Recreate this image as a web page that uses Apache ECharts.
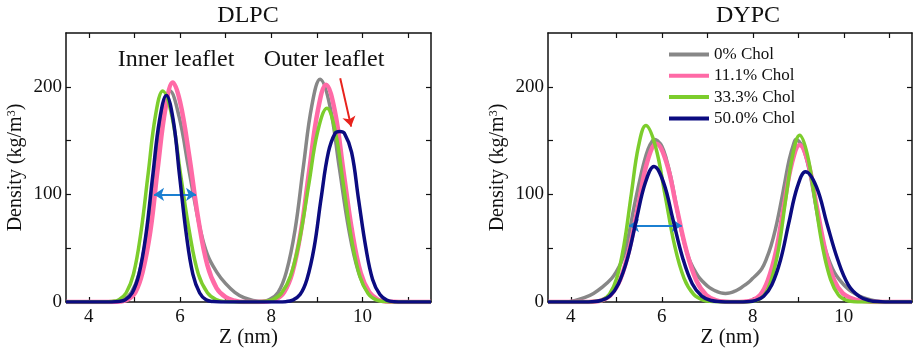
<!DOCTYPE html>
<html>
<head>
<meta charset="utf-8">
<script src="https://cdn.jsdelivr.net/npm/echarts@6/dist/echarts.min.js"></script>
<style>
  html, body { margin: 0; padding: 0; background: #fff; }
  #chart { width: 915px; height: 348px; }
</style>
</head>
<body>
<div id="chart"></div>
<script>
// legend names
const names = ['0% Chol', '11.1% Chol', '33.3% Chol', '50.0% Chol']
const panelTitles = ['DLPC', 'DYPC']

// axis ticks
const xTicks = [4, 5, 6, 7, 8, 9, 10, 11]
const xLabels = [4, 6, 8, 10]
const yTicks = [0, 50, 100, 150, 200]
const yLabels = [0, 100, 200]

// DLPC density profiles [Z (nm), density]
const dlpc0 = [[3.5,0],[4.4,0],[4.59,0.4],[4.76,2.2],[4.93,8.6],[5.10,26],[5.27,64],[5.44,119],[5.61,173],[5.78,196],[5.98,172],[6.18,126],[6.30,98],[6.44,68],[6.60,44],[6.80,28],[7.00,17],[7.20,9],[7.40,4],[7.60,1.5],[7.80,0.5],[7.96,2.3],[8.15,9],[8.33,28],[8.52,67],[8.70,125],[8.89,183],[9.07,207],[9.28,183],[9.49,125],[9.70,67],[9.91,28],[10.12,9],[10.33,2.3],[10.54,0.5],[10.8,0],[11.5,0]]
const dlpc11 = [[3.5,0],[4.5,0],[4.68,0.4],[4.85,2.3],[5.02,9],[5.18,28],[5.35,66],[5.51,124],[5.68,180],[5.84,204],[6.00,186],[6.20,136],[6.40,77],[6.60,34],[6.80,13],[7.00,4.5],[7.20,1.2],[7.40,0],[7.70,0],[7.90,0.4],[8.09,2.2],[8.28,9],[8.46,27],[8.65,66],[8.83,122],[9.02,178],[9.20,202],[9.39,178],[9.58,122],[9.77,66],[9.96,27],[10.15,9],[10.34,2.2],[10.53,0.4],[10.8,0],[11.5,0]]
const dlpc33 = [[3.5,0],[4.35,0],[4.50,0.4],[4.66,2.2],[4.82,8.6],[4.98,26],[5.14,64],[5.30,119],[5.46,173],[5.62,196],[5.82,173],[6.01,119],[6.21,64],[6.40,26],[6.60,8.6],[6.79,2.2],[6.99,0.4],[7.2,0],[7.65,0],[7.82,0.4],[8.02,2],[8.22,8],[8.42,24],[8.62,58],[8.82,109],[9.02,159],[9.22,180],[9.40,159],[9.58,109],[9.76,58],[9.94,24],[10.12,8],[10.30,2],[10.48,0.4],[10.7,0],[11.5,0]]
const dlpc50 = [[3.5,0],[4.5,0],[4.65,0.4],[4.80,2.1],[4.95,8.4],[5.10,26],[5.25,62],[5.40,117],[5.55,169],[5.70,192],[5.85,169],[5.99,117],[6.14,62],[6.28,26],[6.43,8.4],[6.57,2.1],[6.72,0.4],[6.9,0],[8.15,0],[8.32,0.3],[8.47,1.8],[8.63,6.9],[8.78,21],[8.94,51],[9.09,96],[9.25,139],[9.40,157],[9.50,158.5],[9.60,157],[9.76,139],[9.91,96],[10.07,51],[10.22,21],[10.38,6.9],[10.53,1.8],[10.69,0.3],[10.9,0],[11.5,0]]

// DYPC density profiles
const dypc0 = [[3.5,0],[3.9,0],[4.1,1.5],[4.3,4],[4.5,8],[4.7,14],[4.9,22],[5.0,28],[5.1,36],[5.2,48],[5.3,68],[5.4,90],[5.5,110],[5.6,128],[5.7,142],[5.8,150],[5.85,151],[5.9,150],[6.0,145],[6.1,133],[6.2,116],[6.3,94],[6.4,72],[6.5,54],[6.6,40],[6.7,31],[6.8,24],[6.9,19],[7.0,15],[7.1,12],[7.2,10],[7.3,8.5],[7.4,8],[7.5,8.5],[7.6,10],[7.7,12],[7.8,15],[7.9,18],[8.0,22],[8.1,26],[8.2,31],[8.3,40],[8.4,52],[8.5,68],[8.6,88],[8.7,110],[8.8,132],[8.9,147],[8.95,151],[9.0,150],[9.1,144],[9.2,130],[9.3,110],[9.4,86],[9.5,64],[9.6,48],[9.7,36],[9.8,27],[9.9,21],[10.0,16],[10.1,12],[10.2,9],[10.3,6.5],[10.4,4.5],[10.6,2],[10.8,0.5],[11.0,0],[11.5,0]]
const dypc11 = [[3.5,0],[4.3,0],[4.48,0.3],[4.68,1.6],[4.88,6.5],[5.08,20],[5.28,48],[5.48,89],[5.68,130],[5.88,147],[6.10,130],[6.32,89],[6.54,48],[6.76,20],[6.98,6.5],[7.20,1.6],[7.42,0.3],[7.6,0],[7.81,0.3],[7.98,1.6],[8.16,6.4],[8.33,20],[8.51,47],[8.68,88],[8.86,129],[9.03,146],[9.22,129],[9.41,88],[9.60,47],[9.79,20],[9.98,8],[10.17,3.5],[10.36,1.3],[10.6,0.3],[10.8,0],[11.5,0]]
const dypc33 = [[3.5,0],[4.35,0],[4.53,0.4],[4.69,1.8],[4.85,7.2],[5.01,22],[5.17,53],[5.33,100],[5.49,145],[5.65,164],[5.86,145],[6.07,100],[6.28,53],[6.49,22],[6.70,7.2],[6.91,1.8],[7.12,0.4],[7.35,0],[7.75,0],[7.94,0.3],[8.10,1.7],[8.26,6.8],[8.41,21],[8.57,50],[8.72,94],[8.88,137],[9.03,155],[9.20,137],[9.37,94],[9.54,50],[9.71,21],[9.88,6.8],[10.05,1.7],[10.22,0.3],[10.4,0],[11.5,0]]
const dypc50 = [[3.5,0],[4.3,0],[4.47,0.3],[4.66,1.4],[4.86,5.5],[5.05,17],[5.25,41],[5.44,76],[5.64,111],[5.83,126],[6.04,111],[6.25,76],[6.46,41],[6.67,17],[6.88,5.5],[7.09,1.4],[7.30,0.3],[7.5,0],[7.7,0],[7.87,0.3],[8.05,1.3],[8.24,5.3],[8.42,16],[8.61,39],[8.79,73],[8.98,107],[9.16,121],[9.40,107],[9.63,73],[9.87,39],[10.10,16],[10.34,5.3],[10.57,1.3],[10.81,0.3],[11.0,0],[11.5,0]]

// annotation arrows (data coords)
const dlpcWidthArrow = [[5.43, 100], [6.35, 100]]
const dypcWidthArrow = [[5.28, 71], [6.44, 71]]
const dlpcShiftArrow = [[9.51, 208], [9.75, 163]]

const colors = ['#878787', '#ff6aa6', '#7ccd2c', '#0b0b80']
const widths = [3.5, 4.5, 3.5, 3.5]
const font = 'Liberation Serif'

const grids = [
  {left: 66, top: 33, width: 365, height: 269, outerBoundsMode: 'none', containLabel: false},
  {left: 548, top: 33, width: 364, height: 269, outerBoundsMode: 'none', containLabel: false},
]

const xAxes = []
const yAxes = []
grids.forEach((g, i) => {
  const base = {
    type: 'value', gridIndex: i, min: 3.5, max: 11.5,
    axisLine: {show: true, onZero: false, lineStyle: {color: '#111', width: 1.5}},
    axisTick: {show: true, inside: true, length: 5, customValues: xTicks, lineStyle: {color: '#111', width: 1.2}},
    splitLine: {show: false},
  }
  xAxes.push({
    ...base, position: 'bottom',
    axisLabel: {customValues: xLabels, margin: 6, fontFamily: font, fontSize: 19, color: '#111'},
    name: 'Z (nm)', nameLocation: 'middle', nameGap: 25, nameMoveOverlap: false,
    nameTextStyle: {fontFamily: font, fontSize: 21, color: '#111'},
  })
  xAxes.push({...base, position: 'top', axisLabel: {show: false}})
  const ybase = {
    type: 'value', gridIndex: i, min: 0, max: 250,
    axisLine: {show: true, onZero: false, lineStyle: {color: '#111', width: 1.5}},
    axisTick: {show: true, inside: true, length: 5, customValues: yTicks, lineStyle: {color: '#111', width: 1.2}},
    splitLine: {show: false},
  }
  yAxes.push({
    ...ybase, position: 'left',
    axisLabel: {customValues: yLabels, margin: 4, fontFamily: font, fontSize: 19, color: '#111'},
    name: 'Density (kg/m{sup|3})', nameLocation: 'middle', nameGap: 40, nameMoveOverlap: false,
    nameTextStyle: {
      fontFamily: font, fontSize: 20, color: '#111',
      rich: {sup: {fontFamily: font, fontSize: 12, color: '#111', verticalAlign: 'top', padding: [0, 0, 8, 0]}},
    },
  })
  yAxes.push({...ybase, position: 'right', axisLabel: {show: false}})
})

const arrowLine = (pts, color, both) => [
  {coord: pts[0], symbol: both ? 'arrow' : 'none', lineStyle: {color, width: 2, type: 'solid'}},
  {coord: pts[1], symbol: 'arrow'},
]

const makeSeries = (panel, sets, marks) =>
  sets.map((d, k) => ({
    type: 'line', name: names[k], data: d,
    xAxisIndex: panel * 2, yAxisIndex: panel * 2,
    symbol: 'none', showSymbol: false, smooth: 0.4, clip: true,
    lineStyle: {color: colors[k], width: widths[k]},
    itemStyle: {color: colors[k]},
    z: 2 + k,
    markLine: k === 3 ? {
      silent: true, symbolSize: 10, label: {show: false},
      data: marks,
    } : undefined,
  }))

const series = [
  ...makeSeries(0, [dlpc0, dlpc11, dlpc33, dlpc50], [
    arrowLine(dlpcWidthArrow, '#1b7fd1', true),
    arrowLine(dlpcShiftArrow, '#e8231c', false),
  ]),
  ...makeSeries(1, [dypc0, dypc11, dypc33, dypc50], [
    arrowLine(dypcWidthArrow, '#1b7fd1', true),
  ]),
]

const chart = echarts.init(document.getElementById('chart'), null, {renderer: 'canvas'})
chart.setOption({
  animation: false,
  backgroundColor: '#fff',
  grid: grids,
  xAxis: xAxes,
  yAxis: yAxes,
  legend: {
    orient: 'vertical', left: 667, top: 46, padding: 0,
    itemWidth: 40, itemHeight: 10, itemGap: 4.3,
    data: names,
    itemStyle: {opacity: 0},
    lineStyle: {width: 4},
    textStyle: {fontFamily: font, fontSize: 17, color: '#111'},
  },
  graphic: [
    {type: 'text', x: 248, y: 4, style: {text: panelTitles[0], font: `24px "${font}"`, fill: '#111', align: 'center', verticalAlign: 'top'}},
    {type: 'text', x: 748, y: 4, style: {text: panelTitles[1], font: `24px "${font}"`, fill: '#111', align: 'center', verticalAlign: 'top'}},
    {type: 'text', x: 176, y: 48, style: {text: 'Inner leaflet', font: `24px "${font}"`, fill: '#111', align: 'center', verticalAlign: 'top'}},
    {type: 'text', x: 324, y: 48, style: {text: 'Outer leaflet', font: `24px "${font}"`, fill: '#111', align: 'center', verticalAlign: 'top'}},
  ],
  series,
})
</script>
</body>
</html>
